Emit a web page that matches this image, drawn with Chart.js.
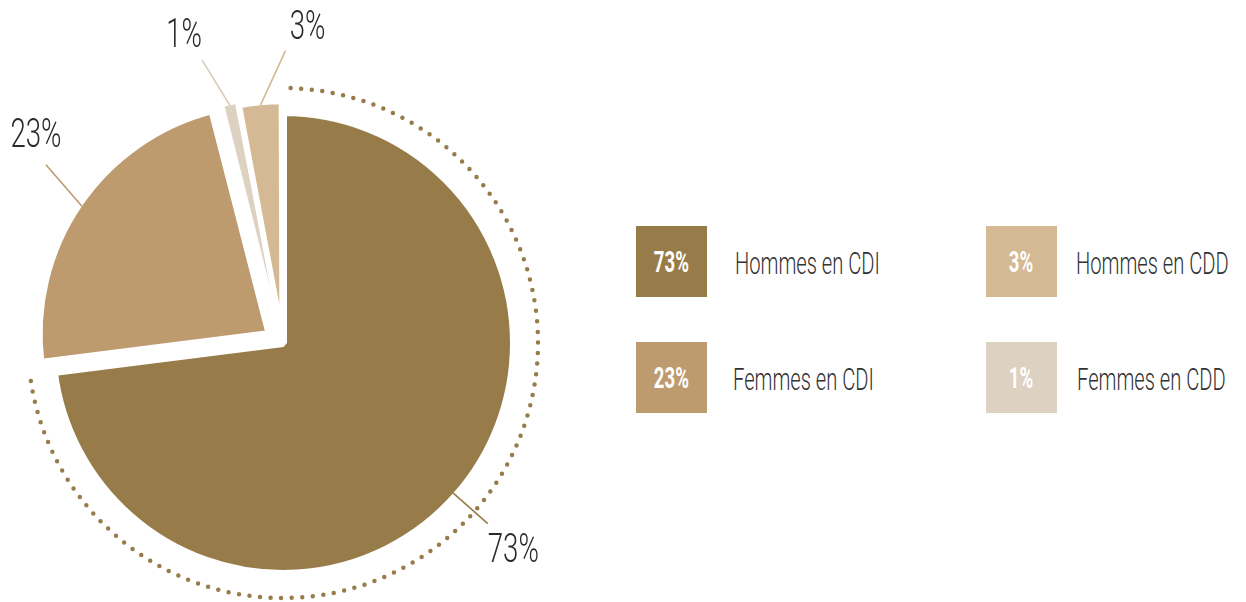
<!DOCTYPE html>
<html lang="fr">
<head>
<meta charset="utf-8">
<title>Répartition des contrats</title>
<script src="https://cdn.jsdelivr.net/npm/chart.js@4.4.1/dist/chart.umd.min.js"></script>
<style>
  html, body { margin: 0; padding: 0; background: #fff; }
  #wrap { position: relative; width: 1246px; height: 602px; overflow: hidden; }
  #pie { position: absolute; left: 0; top: 0; }
  .item { position: absolute; height: 71px; display: flex; align-items: center; }
  .box { width: 71px; height: 71px; flex: none; display: flex; align-items: center; justify-content: center; }
  .box span { color: #fff; font: 700 29px Roboto, sans-serif; display: inline-block; transform: scaleX(0.64); }
  .txt { position: absolute; top: 50%; font: 300 31px Roboto, sans-serif; color: #333; white-space: nowrap;
         transform: translateY(-46%) scaleX(0.65); transform-origin: left center; }
</style>
</head>
<body>
<div id="wrap">
  <canvas id="pie" width="600" height="602"></canvas>
  <div id="legend"></div>
</div>
<script>
// Data
const categories = ["Hommes en CDI", "Femmes en CDI", "Femmes en CDD", "Hommes en CDD"];
const shares = [73, 23, 1, 3];
const shareLabels = shares.map(v => v + "%");
const sliceColors = ["#977c4a", "#bd9b6f", "#ddd1c1", "#d4b994"];
const leaderColors = ["#977c4a", "#bd9b6f", "#d8cab5", "#d4b994"];

// legend cells (left, top, text offset), same order as categories
const legendCells = [[636, 226, 99], [636, 342, 97], [986, 342, 91], [986, 226, 90]];

// leader lines: turn (deg) from slice middle, length, text shift
const leaders = [
  { turn: 0, len: 46, dx: 0, dy: 38, align: "left" },
  { turn: 15, len: 55, dx: -10, dy: -18, align: "center" },
  { turn: -19, len: 53, dx: -18, dy: -13, align: "center" },
  { turn: 30, len: 60, dx: 22, dy: -12, align: "center" }
];

// dotted ring around the big slice
const dottedRing = {
  id: "dottedRing",
  afterDatasetsDraw(chart) {
    const arc = chart.getDatasetMeta(0).data[0];
    const ctx = chart.ctx;
    ctx.save();
    ctx.strokeStyle = sliceColors[0];
    ctx.lineWidth = 4.5;
    ctx.lineCap = "round";
    ctx.setLineDash([0, 10.6]);
    ctx.beginPath();
    ctx.arc(arc.x, arc.y, arc.outerRadius + 24, arc.startAngle + 0.03, arc.endAngle);
    ctx.stroke();
    ctx.restore();
  }
};

// outside labels with leader lines
const outsideLabels = {
  id: "outsideLabels",
  afterDatasetsDraw(chart) {
    const ctx = chart.ctx;
    chart.getDatasetMeta(0).data.forEach((arc, i) => {
      const mid = (arc.startAngle + arc.endAngle) / 2;
      const circ = arc.endAngle - arc.startAngle;
      const t = (arc.options.offset || 0) / 4;
      const fix = 1 - Math.sin(Math.min(Math.PI, circ));
      const r = arc.outerRadius + t * fix - arc.options.borderWidth / 2 + t;
      const sx = arc.x + Math.cos(mid) * r;
      const sy = arc.y + Math.sin(mid) * r;
      const L = leaders[i];
      const a = mid + L.turn * Math.PI / 180;
      const ex = sx + Math.cos(a) * L.len;
      const ey = sy + Math.sin(a) * L.len;
      ctx.save();
      ctx.strokeStyle = leaderColors[i];
      ctx.lineWidth = 1.6;
      ctx.beginPath();
      ctx.moveTo(sx, sy);
      ctx.lineTo(ex, ey);
      ctx.stroke();
      ctx.translate(ex + L.dx, ey + L.dy);
      ctx.scale(0.69, 1);
      ctx.fillStyle = "#2b2b2b";
      ctx.font = "300 40px Roboto, sans-serif";
      ctx.textAlign = L.align;
      ctx.textBaseline = "alphabetic";
      ctx.fillText(shareLabels[i], 0, 0);
      ctx.restore();
    });
  }
};

new Chart(document.getElementById("pie"), {
  type: "pie",
  data: {
    labels: categories,
    datasets: [{
      data: shares,
      backgroundColor: sliceColors,
      borderColor: "#ffffff",
      borderWidth: [8, 8, 2, 6],
      offset: [0, 64, 28, 24],
      radius: 231
    }]
  },
  options: {
    responsive: false,
    animation: false,
    events: [],
    layout: { padding: { top: 84, right: 34 } },
    plugins: {
      legend: { display: false },
      tooltip: { enabled: false }
    }
  },
  plugins: [dottedRing, outsideLabels]
});

// HTML legend
const legend = document.getElementById("legend");
categories.forEach((name, i) => {
  const [left, top, textX] = legendCells[i];
  const item = document.createElement("div");
  item.className = "item";
  item.style.left = left + "px";
  item.style.top = top + "px";
  item.innerHTML = '<div class="box" style="background:' + sliceColors[i] + '"><span>' + shareLabels[i] +
    '</span></div><div class="txt" style="left:' + textX + 'px">' + name + '</div>';
  legend.appendChild(item);
});
</script>
</body>
</html>
